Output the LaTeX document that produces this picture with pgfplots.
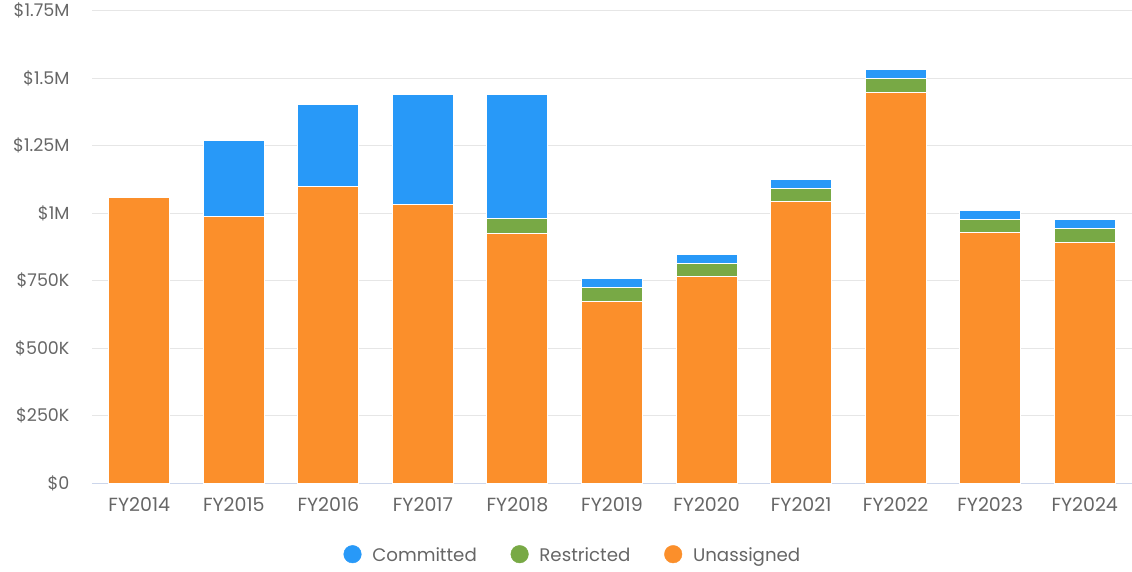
\documentclass[border=0pt]{standalone}
\usepackage{pgfplots}
\pgfplotsset{compat=1.18}
\usepackage{fontspec}
\setmainfont{Poppins}
\definecolor{cblue}{HTML}{2899F8}
\definecolor{cgreen}{HTML}{78A945}
\definecolor{corange}{HTML}{FB8F2B}
\definecolor{txt}{HTML}{666666}
\definecolor{gridc}{HTML}{E6E6E6}
\definecolor{basec}{HTML}{CCD6EB}
\newcommand{\lblfont}{\fontsize{17.5}{20}\selectfont}
\newcommand{\xlblfont}{\fontsize{19}{22}\selectfont}
\newcommand{\legfont}{\fontsize{18.2}{21}\selectfont}
\begin{document}
\begin{tikzpicture}
\begin{axis}[
  at={(92pt,87.7pt)}, anchor=south west,
  scale only axis, width=1040pt, height=472.6pt,
  ybar stacked, bar width=61pt,
  xmin=-0.5, xmax=10.5, ymin=0, ymax=1750,
  xtick={0,...,10},
  xticklabels={FY2014,FY2015,FY2016,FY2017,FY2018,FY2019,FY2020,FY2021,FY2022,FY2023,FY2024},
  ytick={0,250,500,750,1000,1250,1500,1750},
  yticklabels={\$0,\$250K,\$500K,\$750K,\$1M,\$1.25M,\$1.5M,\$1.75M},
  major tick length=0pt,
  ymajorgrids, xmajorgrids=false,
  y grid style={draw=gridc, line width=1.2pt},
  axis line style={draw=none},
  every tick label/.append style={text=txt},
  xticklabel style={font=\xlblfont, yshift=-11pt},
  yticklabel style={font=\lblfont, xshift=-19pt},
  legend style={at={(0.4625,-0.152)}, anchor=center, draw=none, fill=none,
    font=\legfont, text=txt, legend columns=-1,
    /tikz/every odd column/.append style={column sep=9pt},
    /tikz/every even column/.append style={column sep=32pt}},
  legend cell align=left,
]
\addplot[forget plot, fill=corange, draw=white, line width=1pt] coordinates {
(0,1059) (1,987) (2,1098) (3,1031) (4,926) (5,675) (6,765) (7,1043) (8,1448) (9,927) (10,892)};
\addplot[forget plot, fill=cgreen, draw=white, line width=1pt] coordinates {
(0,0) (1,0) (2,0) (3,0) (4,55) (5,49) (6,50) (7,49) (8,50) (9,48) (10,50)};
\addplot[forget plot, fill=cblue, draw=white, line width=1pt] coordinates {
(0,0) (1,283) (2,306) (3,407) (4,458) (5,35) (6,33) (7,33) (8,33) (9,34) (10,33)};
\draw[basec, line width=1pt] (rel axis cs:0,0) -- (rel axis cs:1,0);
\addlegendimage{only marks, mark=*, mark size=8.8pt, mark options={draw=cblue, fill=cblue, yshift=-5pt}}
\addlegendentry{Committed}
\addlegendimage{only marks, mark=*, mark size=8.8pt, mark options={draw=cgreen, fill=cgreen, yshift=-5pt}}
\addlegendentry{Restricted}
\addlegendimage{only marks, mark=*, mark size=8.8pt, mark options={draw=corange, fill=corange, yshift=-5pt}}
\addlegendentry{Unassigned}
\end{axis}
\pgfresetboundingbox
\useasboundingbox (0,0) rectangle (1132pt,571pt);
\end{tikzpicture}
\end{document}
